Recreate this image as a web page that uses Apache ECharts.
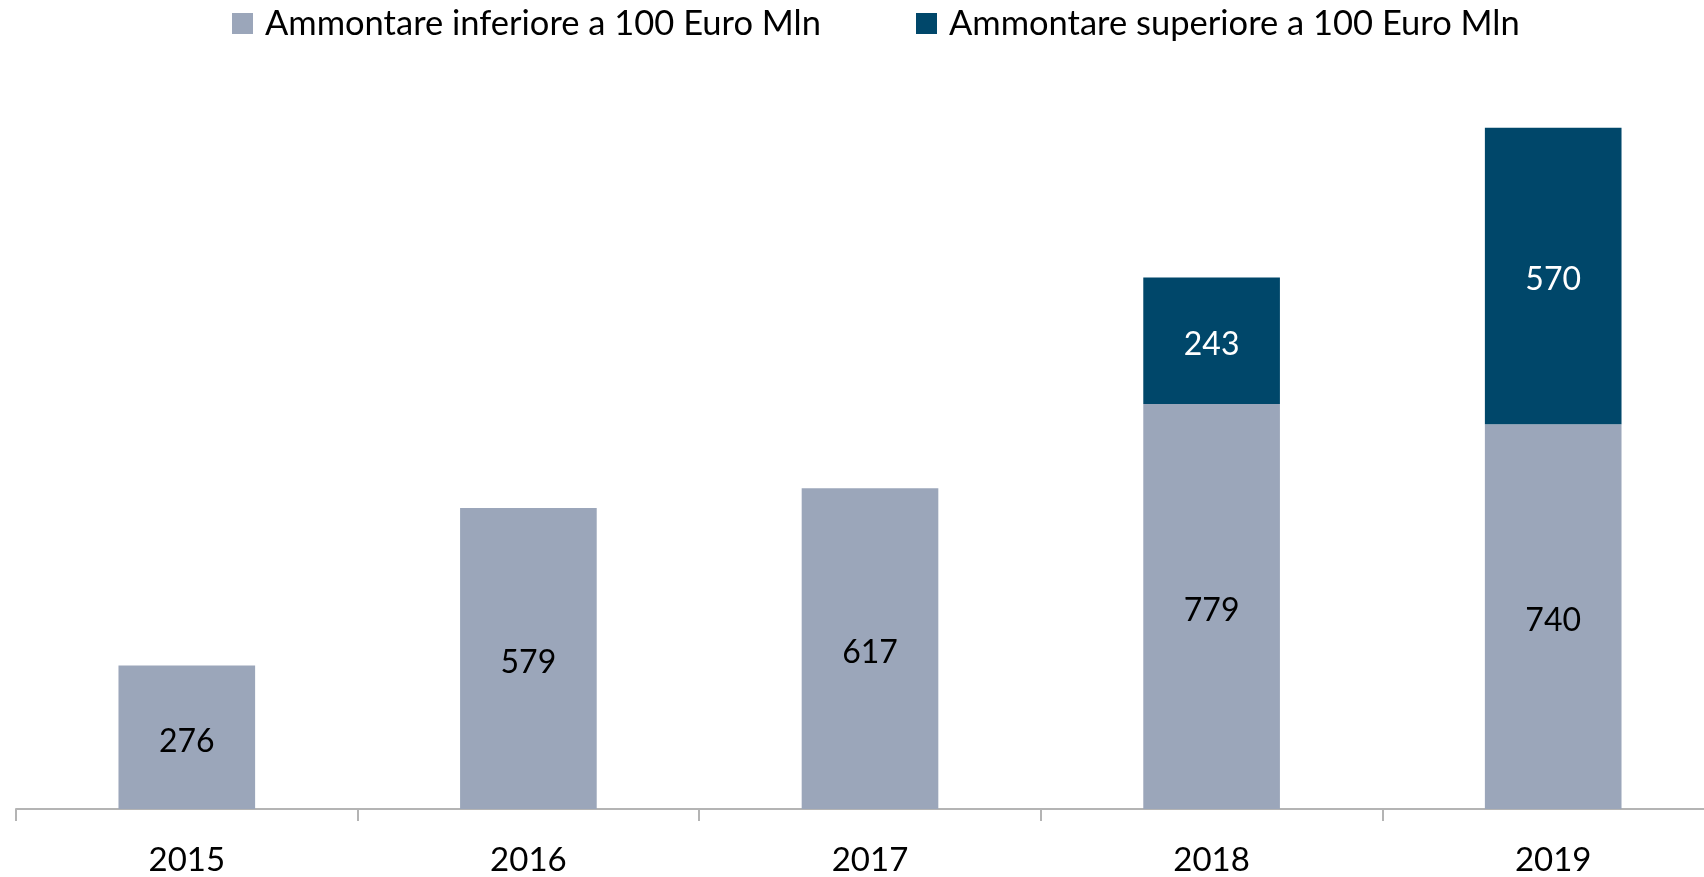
<!DOCTYPE html>
<html>
<head>
<meta charset="utf-8">
<script src="https://cdn.jsdelivr.net/npm/echarts@6/dist/echarts.min.js"></script>
<style>
  html, body { margin: 0; padding: 0; background: #fff; overflow: hidden; }
  #chart { width: 1724px; height: 877px; }
</style>
</head>
<body>
<div id="chart"></div>
<script>
// dati
const years = ['2015', '2016', '2017', '2018', '2019']
const sotto100 = [276, 579, 617, 779, 740]
const sopra100 = [null, null, null, 243, 570]
const seriesNames = ['Ammontare inferiore a 100 Euro Mln', 'Ammontare superiore a 100 Euro Mln']

const chart = echarts.init(document.getElementById('chart'))

chart.setOption({
  animation: false,
  textStyle: { fontFamily: 'Lato' },
  legend: {
    top: 1,
    left: 227,
    itemWidth: 21,
    itemHeight: 21,
    itemGap: 95,
    icon: 'rect',
    textStyle: { fontSize: 34.5, color: '#000', fontFamily: 'Lato', padding: [0, 0, 0, 7] },
    data: seriesNames
  },
  grid: {
    left: 16,
    right: 0,
    top: 81,
    bottom: 65,
    containLabel: false
  },
  xAxis: {
    type: 'category',
    data: years,
    axisLine: { lineStyle: { color: '#B4B4B4', width: 2 } },
    axisTick: { show: true, length: 12, lineStyle: { color: '#B4B4B4', width: 2 } },
    axisLabel: { fontSize: 33, color: '#000', margin: 35 }
  },
  yAxis: {
    type: 'value',
    min: 0,
    max: 1400,
    show: false,
    splitLine: { show: false }
  },
  series: [
    {
      name: seriesNames[0],
      type: 'bar',
      stack: 'tot',
      barWidth: '40%',
      data: sotto100,
      itemStyle: { color: '#9BA6BA' },
      label: { show: true, position: 'inside', offset: [0, 4], fontSize: 32, color: '#000' }
    },
    {
      name: seriesNames[1],
      type: 'bar',
      stack: 'tot',
      barWidth: '40%',
      data: sopra100,
      itemStyle: { color: '#00476A' },
      label: { show: true, position: 'inside', offset: [0, 4], fontSize: 32, color: '#fff' }
    }
  ]
})
</script>
</body>
</html>
